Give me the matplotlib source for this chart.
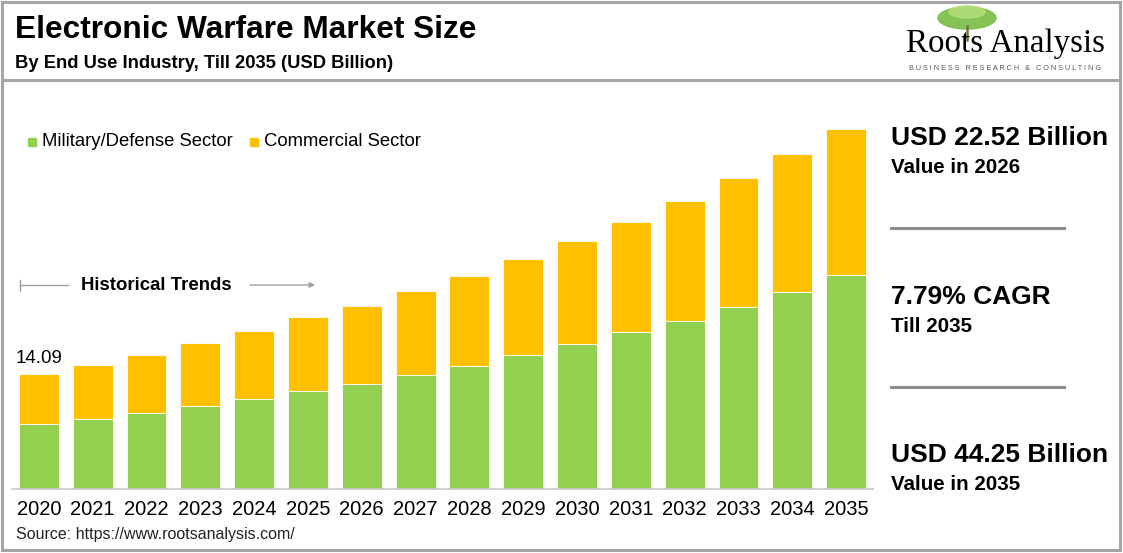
import numpy as np
import matplotlib.pyplot as plt
from matplotlib.lines import Line2D
from matplotlib.patches import Ellipse, Rectangle

########################################################
# DATA
########################################################

years = ["2020", "2021", "2022", "2023", "2024", "2025", "2026", "2027",
         "2028", "2029", "2030", "2031", "2032", "2033", "2034", "2035"]

military = [7.96, 8.65, 9.39, 10.25, 11.11, 12.09, 12.95, 14.02,
            15.17, 16.44, 17.80, 19.27, 20.70, 22.42, 24.27, 26.28]

totals = [14.09, 15.25, 16.48, 17.96, 19.43, 21.16, 22.52, 24.35,
          26.20, 28.29, 30.50, 32.84, 35.42, 38.20, 41.20, 44.25]

commercial = [t - m for t, m in zip(totals, military)]

series_names = ["Military/Defense Sector", "Commercial Sector"]
colors = ["#92D050", "#FFC000"]

########################################################
# FIGURE
########################################################

W, H = 1123, 553
plt.rcParams['font.family'] = ['Liberation Sans', 'DejaVu Sans']

fig = plt.figure(figsize=(W / 100, H / 100), dpi=100)


def fx(px):
    return px / W


def fy(py):
    return 1 - py / H


# axes placed in pixel units
ax = fig.add_axes([fx(12), fy(489), (873 - 12) / W, (489 - 100) / H])

x = np.arange(len(years))

ax.bar(x, military, width=0.74, color=colors[0],
       edgecolor="white", linewidth=0.6)
ax.bar(x, commercial, width=0.74, bottom=military, color=colors[1],
       edgecolor="white", linewidth=0.6)

ax.set_xlim(-0.5, len(years) - 0.5)
ax.set_ylim(0, 47.85)
ax.set_yticks([])
ax.set_xticks(x)
ax.set_xticklabels(years, fontsize=14.5)
ax.tick_params(axis="x", length=0, pad=8)

for side in ["top", "right", "left"]:
    ax.spines[side].set_visible(False)
ax.spines["bottom"].set_color("#c8c8c8")
ax.spines["bottom"].set_linewidth(1.2)

# first value label
ax.text(x[0] - 0.43, totals[0] + 0.9, f"{totals[0]:.2f}",
        fontsize=13.5, ha="left", va="bottom")

########################################################
# FRAME AND HEADER
########################################################

gray = "#a6a6a6"
fig.add_artist(Rectangle((fx(2), fy(550)), fx(1118), (548) / H,
                         fill=False, edgecolor=gray, linewidth=2.2))
fig.add_artist(Line2D([fx(2), fx(1120)], [fy(80), fy(80)],
                      color=gray, linewidth=2.2))

fig.text(fx(15), fy(38), "Electronic Warfare Market Size",
         fontsize=22.8, fontweight="bold", va="baseline")
fig.text(fx(15), fy(68), "By End Use Industry, Till 2035 (USD Billion)",
         fontsize=13.2, fontweight="bold", va="baseline")

# logo
fig.add_artist(Ellipse((fx(967), fy(18)), 58 / W, 22 / H,
                       color="#78bd45", alpha=0.9))
fig.add_artist(Ellipse((fx(967), fy(12)), 36 / W, 12 / H,
                       color="#b2dd78", alpha=0.9))
fig.add_artist(Line2D([fx(967), fx(967)], [fy(26), fy(40)],
                      color="#6a7a40", linewidth=1.8))
fig.text(fx(1006), fy(52), "Roots Analysis", family="Liberation Serif",
         fontsize=23.8, ha="center", va="baseline")
fig.text(fx(1005), fy(70), "B U S I N E S S   R E S E A R C H   &   C O N S U L T I N G",
         fontsize=5.2, ha="center", va="baseline", color="#555555")

########################################################
# LEGEND
########################################################

for i, name in enumerate(series_names):
    lx = [28, 250][i]
    fig.add_artist(Rectangle((fx(lx), fy(146)), 8 / W, 8 / H,
                             color=colors[i]))
    fig.text(fx(lx + 14), fy(141), name, fontsize=13.3, va="center")

########################################################
# HISTORICAL TRENDS
########################################################

fig.add_artist(Line2D([fx(20), fx(68)], [fy(285), fy(285)],
                      color="#a0a0a0", linewidth=1))
fig.add_artist(Line2D([fx(20), fx(20)], [fy(280), fy(291)],
                      color="#a0a0a0", linewidth=1))
fig.text(fx(81), fy(285), "Historical Trends", fontsize=13.4,
         fontweight="bold", va="center")
ax.annotate("", xy=(fx(318), fy(285)), xytext=(fx(247), fy(285)),
            xycoords="figure fraction", textcoords="figure fraction",
            arrowprops=dict(arrowstyle="-|>", color="#a0a0a0", lw=1,
                            mutation_scale=8))

########################################################
# RIGHT PANEL
########################################################

panel = [("USD 22.52 Billion", "Value in 2026", 145),
         ("7.79% CAGR", "Till 2035", 304),
         ("USD 44.25 Billion", "Value in 2035", 462)]

for big, small, base in panel:
    fig.text(fx(891), fy(base), big, fontsize=19, fontweight="bold",
             va="baseline")
    fig.text(fx(891), fy(base + 28), small, fontsize=14.8,
             fontweight="bold", va="baseline")

for ly in [228, 387]:
    fig.add_artist(Line2D([fx(891), fx(1064)], [fy(ly), fy(ly)],
                          color="#8c8c8c", linewidth=2.2))

fig.text(fx(16), fy(539), "Source: https://www.rootsanalysis.com/",
         fontsize=11.5, va="baseline", color="#222222")

plt.savefig("out.png", dpi=100)
